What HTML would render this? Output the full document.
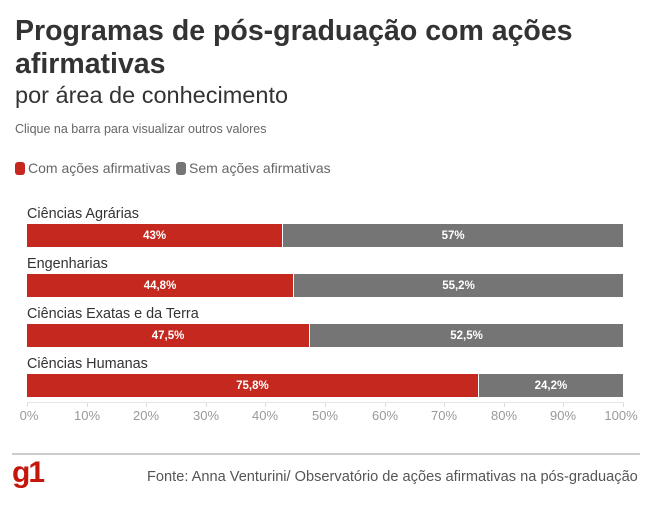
<!DOCTYPE html>
<html><head><meta charset="utf-8"><style>
body{margin:0;width:657px;height:507px;background:#fff;font-family:"Liberation Sans",sans-serif;position:relative;overflow:hidden}
.a{position:absolute;white-space:nowrap}
.bar{position:absolute;height:23px;left:27px;width:596px;display:flex}
.r{background:#c4281f;color:#fff;font-weight:bold;font-size:11.5px;display:flex;align-items:center;justify-content:center;border-right:1px solid #fff;box-sizing:border-box}
.g{background:#757575;color:#fff;font-weight:bold;font-size:11.5px;display:flex;align-items:center;justify-content:center;flex:1}
.lab{position:absolute;left:27px;font-size:14.4px;color:#333}
.t{position:absolute;top:408px;font-size:13px;color:#999;transform:translateX(-50%)}
.tk{position:absolute;top:403px;width:1px;height:4px;background:#ddd}
</style></head><body>
<div class="a" style="left:15px;top:15px;font-size:28.5px;font-weight:bold;color:#333;line-height:33px">Programas de pós-graduação com ações<br>afirmativas</div>
<div class="a" style="left:15px;top:82px;font-size:23.5px;color:#333">por área de conhecimento</div>
<div class="a" style="left:15px;top:122px;font-size:12.5px;color:#666">Clique na barra para visualizar outros valores</div>
<div class="a" style="left:15px;top:162px;width:10px;height:13px;background:#c4281f;border-radius:3px"></div>
<div class="a" style="left:28px;top:160px;font-size:14px;color:#666">Com ações afirmativas</div>
<div class="a" style="left:176px;top:162px;width:10px;height:13px;background:#757575;border-radius:3px"></div>
<div class="a" style="left:189px;top:160px;font-size:14px;color:#666">Sem ações afirmativas</div>

<div class="lab" style="top:206px">Ciências Agrárias</div>
<div class="bar" style="top:224px"><div class="r" style="width:43%">43%</div><div class="g">57%</div></div>
<div class="lab" style="top:256px">Engenharias</div>
<div class="bar" style="top:274px"><div class="r" style="width:44.8%">44,8%</div><div class="g">55,2%</div></div>
<div class="lab" style="top:306px">Ciências Exatas e da Terra</div>
<div class="bar" style="top:324px"><div class="r" style="width:47.5%">47,5%</div><div class="g">52,5%</div></div>
<div class="lab" style="top:356px">Ciências Humanas</div>
<div class="bar" style="top:374px"><div class="r" style="width:75.8%">75,8%</div><div class="g">24,2%</div></div>

<div class="a" style="left:27px;top:402px;width:597px;height:1px;background:#e6e6e6"></div>
<div class="tk" style="left:27px"></div><div class="t" style="left:29px">0%</div>
<div class="tk" style="left:87px"></div><div class="t" style="left:87px">10%</div>
<div class="tk" style="left:146px"></div><div class="t" style="left:146px">20%</div>
<div class="tk" style="left:206px"></div><div class="t" style="left:206px">30%</div>
<div class="tk" style="left:265px"></div><div class="t" style="left:265px">40%</div>
<div class="tk" style="left:325px"></div><div class="t" style="left:325px">50%</div>
<div class="tk" style="left:385px"></div><div class="t" style="left:385px">60%</div>
<div class="tk" style="left:444px"></div><div class="t" style="left:444px">70%</div>
<div class="tk" style="left:504px"></div><div class="t" style="left:504px">80%</div>
<div class="tk" style="left:563px"></div><div class="t" style="left:563px">90%</div>
<div class="tk" style="left:623px"></div><div class="t" style="left:621px">100%</div>

<div class="a" style="left:12px;top:453px;width:628px;height:2px;background:#ccc"></div>
<div class="a" style="left:12px;top:456px;font-size:30px;font-weight:bold;color:#c4170c;letter-spacing:-2px">g1</div>
<div class="a" style="left:147px;top:469px;font-size:14.6px;color:#555">Fonte: Anna Venturini/ Observatório de ações afirmativas na pós-graduação</div>
</body></html>
